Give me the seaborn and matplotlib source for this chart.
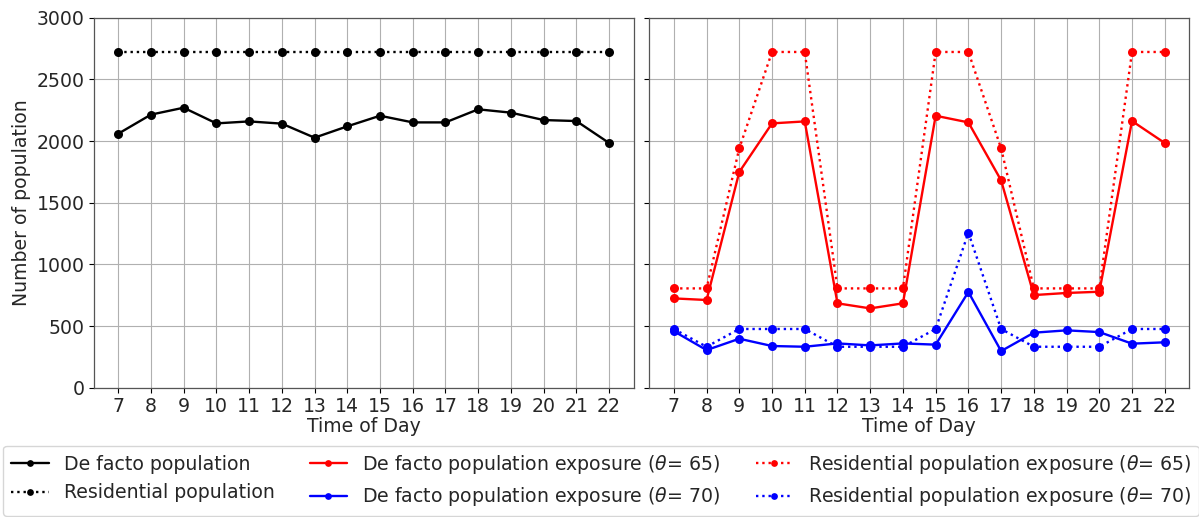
import matplotlib
matplotlib.use("Agg")
import matplotlib.pyplot as plt
import seaborn as sns
import pandas as pd

hours = list(range(7, 23))

# Whole-area population counts
de_facto = [2059, 2214, 2270, 2143, 2159, 2141, 2027, 2119, 2205, 2151, 2151, 2257, 2230, 2170, 2162, 1984]
residential = [2722] * 16

# Population exposed at each hour for two thresholds
de_facto_exp_65 = [724, 711, 1749, 2143, 2159, 684, 643, 684, 2205, 2151, 1681, 751, 768, 778, 2162, 1984]
resid_exp_65 = [805, 805, 1941, 2722, 2722, 805, 805, 805, 2722, 2722, 1941, 805, 805, 805, 2722, 2722]
de_facto_exp_70 = [458, 305, 397, 338, 332, 359, 343, 359, 349, 776, 297, 446, 465, 451, 357, 368]
resid_exp_70 = [476, 332, 476, 476, 476, 332, 332, 332, 476, 1257, 476, 332, 332, 332, 476, 476]

labels = {
    "df": "De facto population",
    "rp": "Residential population",
    "df65": r"De facto population exposure ($\theta$= 65)",
    "df70": r"De facto population exposure ($\theta$= 70)",
    "rp65": r"Residential population exposure ($\theta$= 65)",
    "rp70": r"Residential population exposure ($\theta$= 70)",
}

FS = 13.6

sns.set_style("white")
plt.rcParams["font.family"] = ["DejaVu Sans"]
plt.rcParams["font.size"] = FS

fig, (ax1, ax2) = plt.subplots(1, 2, figsize=(11.99, 5.17), dpi=100, sharey=True)
fig.subplots_adjust(left=0.0781, right=0.9919, bottom=0.2501, top=0.9658, wspace=0.029)

common = dict(marker="o", markersize=6.5, markeredgewidth=0, linewidth=1.7, legend=False)

def draw(ax, values, color, ls, key):
    df = pd.DataFrame({"hour": hours, "value": values})
    sns.lineplot(data=df, x="hour", y="value", ax=ax, color=color, linestyle=ls,
                 label=labels[key], **common)

draw(ax1, de_facto, "black", "-", "df")
draw(ax1, residential, "black", ":", "rp")

draw(ax2, de_facto_exp_65, "red", "-", "df65")
draw(ax2, de_facto_exp_70, "blue", "-", "df70")
draw(ax2, resid_exp_65, "red", ":", "rp65")
draw(ax2, resid_exp_70, "blue", ":", "rp70")

for ax in (ax1, ax2):
    ax.set_xticks(hours)
    ax.set_xticklabels([str(h) for h in hours])
    ax.set_ylim(0, 3000)
    ax.set_yticks(range(0, 3001, 500))
    ax.grid(True, color="#b0b0b0", linewidth=0.8)
    ax.set_xlabel("Time of Day", fontsize=FS, labelpad=1)
    ax.tick_params(axis="both", which="both", direction="out", length=3.5, width=0.8,
                   labelsize=FS, bottom=True, left=True, color="black", pad=3)
    for sp in ax.spines.values():
        sp.set_color("#555555")
        sp.set_linewidth(0.9)
ax1.set_ylabel("Number of population", fontsize=FS)
ax2.set_ylabel("")
ax2.tick_params(labelleft=False)

h1, l1 = ax1.get_legend_handles_labels()
h2, l2 = ax2.get_legend_handles_labels()
handles = h1 + h2
labs = l1 + l2
leg = fig.legend(handles, labs, loc="lower center", ncol=3, bbox_to_anchor=(0.5015, 0.0),
                 fontsize=FS, frameon=True, columnspacing=1.85, handlelength=2.0,
                 markerscale=0.75, borderaxespad=0.05)

fig.savefig("out.png", dpi=100)
